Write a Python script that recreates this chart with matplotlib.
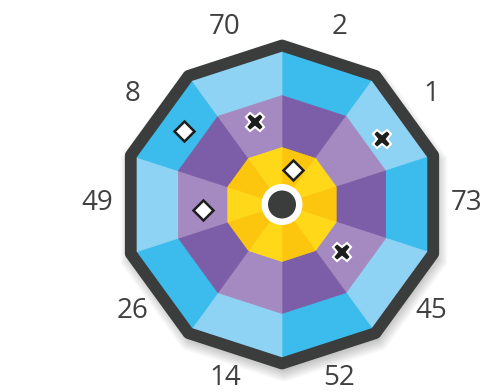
import numpy as np
import matplotlib.pyplot as plt
from matplotlib.patches import Polygon, Circle

# sector scores, clockwise starting just right of the top vertex
sector_labels = ['2', '1', '73', '45', '52', '14', '26', '49', '8', '70']

# throws: angle (deg, counter-clockwise from 3 o'clock) and distance as share of board radius
cross_angle = [108, 33, -38]
cross_dist = [0.565, 0.78, 0.50]
diamond_angle = [143, 72, 184]
diamond_dist = [0.80, 0.236, 0.514]

blue = ['#3bbcec', '#8fd3f4']
purple = ['#7b5ea7', '#a58ac1']
yellow = ['#fdc60e', '#ffd81a']
dark = '#3b3c3c'

cx, cy = 282, 204.5
r_board = 153.5
r_mid = 109
r_bull = 57

fig = plt.figure(figsize=(4.83, 3.92), dpi=100)
ax = fig.add_axes([0, 0, 1, 1])
ax.set_xlim(0, 483)
ax.set_ylim(392, 0)
ax.set_aspect('equal')
ax.axis('off')

n = len(sector_labels)
step = 360 / n


def pt(ang, r):
    a = np.deg2rad(ang)
    return cx + r * np.cos(a), cy - r * np.sin(a)


def decagon(r):
    return [pt(90 + step * k, r) for k in range(n)]


# soft drop shadow
for k in range(10):
    sh = [(x + 2, y + 6) for x, y in decagon(160 + k * 1.3)]
    ax.add_patch(Polygon(sh, closed=True, fc='#000000', ec='none', alpha=0.025, zorder=0))

# rings of wedges, sector i spans 90 - i*step .. 90 - (i+1)*step
for i in range(n):
    a0 = 90 - i * step
    a1 = a0 - step
    shade = i % 2
    for r_out, r_in, cols in [(r_board, r_mid, blue), (r_mid, r_bull, purple), (r_bull, 0, yellow)]:
        quad = [pt(a0, r_out), pt(a1, r_out), pt(a1, r_in), pt(a0, r_in)]
        ax.add_patch(Polygon(quad, closed=True, fc=cols[shade], ec=cols[shade], lw=0.5, zorder=1))

# outer frame
ax.add_patch(Polygon(decagon(r_board + 5.5), closed=True, fc='none', ec=dark,
                     lw=8.5, joinstyle='round', zorder=2))

# bull
ax.add_patch(Circle((cx, cy), 20.5, fc='white', ec='none', zorder=3))
ax.add_patch(Circle((cx, cy), 14, fc=dark, ec='none', zorder=4))

# score labels
for i, lab in enumerate(sector_labels):
    x, y = pt(90 - (i + 0.5) * step, 185)
    ax.text(x, y - 2, lab, ha='center', va='center', fontsize=20,
            family='Open Sans', color='#404040')

# throws
for ang, d in zip(cross_angle, cross_dist):
    x, y = pt(ang, d * r_board)
    ax.plot(x, y, marker='X', ms=13, mfc='#1e1e1e', mec='white', mew=1.5, zorder=5)

for ang, d in zip(diamond_angle, diamond_dist):
    x, y = pt(ang, d * r_board)
    ax.plot(x, y, marker='D', ms=10, mfc='white', mec='#1e1e1e', mew=1.8, zorder=5)

fig.savefig('out.png', dpi=100)
